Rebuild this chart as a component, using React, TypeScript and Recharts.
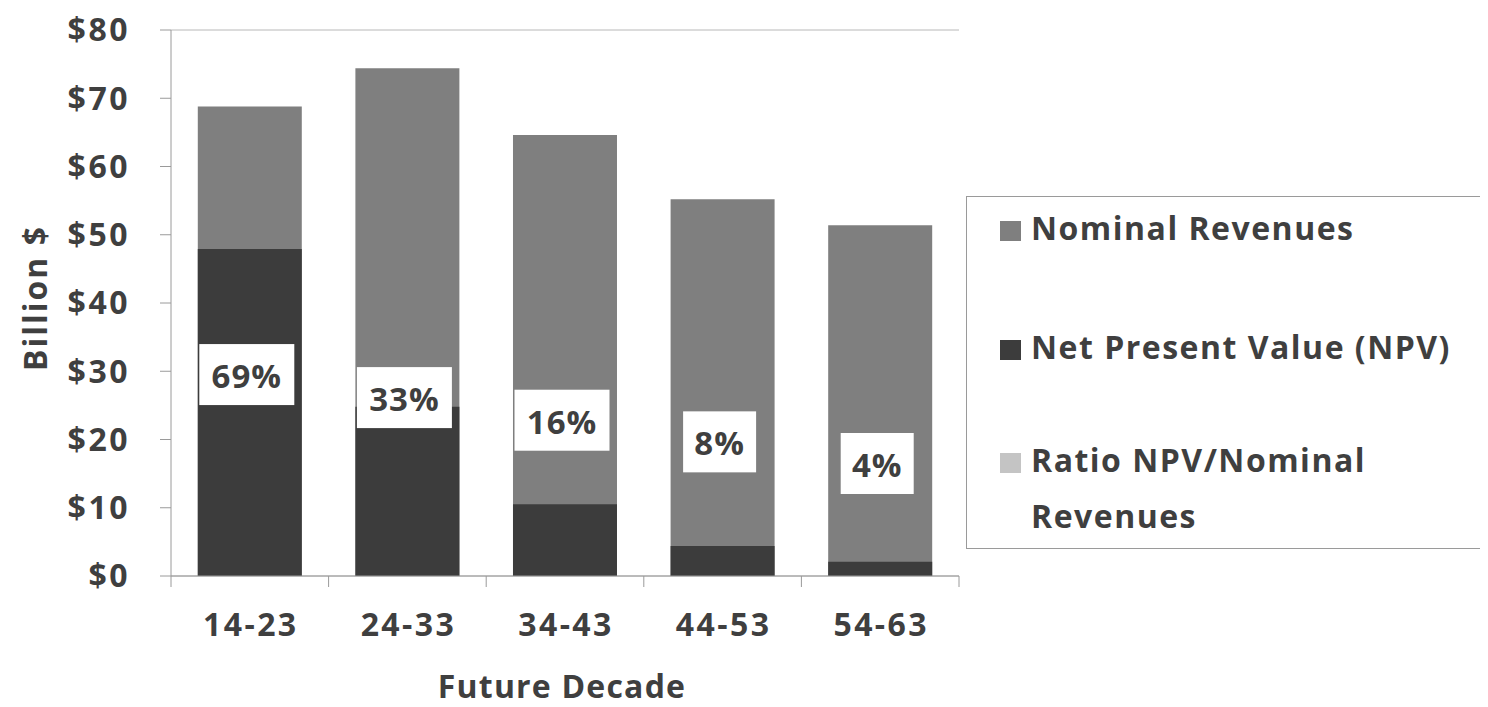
import {
  Bar,
  ComposedChart,
  CartesianGrid,
  Legend,
  Line,
  XAxis,
  YAxis,
} from 'recharts';

const decades = ['14-23', '24-33', '34-43', '44-53', '54-63'];
const nominalRevenues = [68.8, 74.4, 64.6, 55.2, 51.4];
const netPresentValue = [47.9, 24.8, 10.5, 4.4, 2.1];
const npvRatio = [0.69, 0.33, 0.16, 0.08, 0.04];
const yTicks = [0, 10, 20, 30, 40, 50, 60, 70, 80];

const FONT = '"Open Sans", "DejaVu Sans", sans-serif';
const TEXT = '#3f3f3f';
const AXIS = '#9a9a9a';
const NOMINAL = '#7f7f7f';
const NPV = '#3c3c3c';
const RATIO = '#c4c4c4';

const legendItems = [
  { label: 'Nominal Revenues', color: NOMINAL },
  { label: 'Net Present Value (NPV)', color: NPV },
  { label: 'Ratio NPV/Nominal Revenues', color: RATIO },
];
const legendRowTops = [3, 122, 235];

const data = decades.map((decade, i) => ({
  decade,
  nominal: nominalRevenues[i],
  npv: netPresentValue[i],
  ratio: npvRatio[i],
}));

function RatioLabel(props: any) {
  const { x, y, value } = props;
  if (x == null || y == null) return null;
  const text = `${Math.round(value * 100)}%`;
  const w = text.length > 2 ? 95 : 73;
  const h = 61;
  const cx = x - 3;
  return (
    <g>
      <rect x={cx - w / 2} y={y - h / 2} width={w} height={h} fill="#ffffff" />
      <text
        x={cx}
        y={y + 1}
        textAnchor="middle"
        dominantBaseline="central"
        fill={TEXT}
        fontFamily={FONT}
        fontWeight={700}
        fontSize={33}
        letterSpacing={1}
      >
        {text}
      </text>
    </g>
  );
}

function DecadeTick(props: any) {
  const { x, y, payload, width, index } = props;
  const half = width / decades.length / 2;
  return (
    <g>
      {index === 0 ? (
        <line x1={x - half} x2={x - half} y1={y} y2={y + 11} stroke={AXIS} />
      ) : null}
      <line x1={x + half} x2={x + half} y1={y} y2={y + 11} stroke={AXIS} />
      <text
        x={x + 1}
        y={y + 47}
        textAnchor="middle"
        dominantBaseline="central"
        fill={TEXT}
        fontFamily={FONT}
        fontWeight={700}
        fontSize={32}
        letterSpacing={2.4}
      >
        {payload.value}
      </text>
    </g>
  );
}

function LegendBox() {
  return (
    <div
      style={{
        border: `1px solid ${AXIS}`,
        width: 519,
        height: 353,
        boxSizing: 'border-box',
        background: '#fff',
        fontFamily: FONT,
        fontWeight: 700,
        fontSize: 32,
        letterSpacing: 1.5,
        color: TEXT,
        position: 'relative',
      }}
    >
      {legendItems.map((item, i) => (
        <div
          key={item.label}
          style={{
            position: 'absolute',
            left: 33,
            top: legendRowTops[i],
            display: 'flex',
            alignItems: 'flex-start',
            lineHeight: '56px',
          }}
        >
          <span
            style={{
              display: 'inline-block',
              width: 21,
              height: 20,
              background: item.color,
              marginTop: 21,
              marginRight: 10,
              flex: 'none',
            }}
          />
          <span style={{ maxWidth: 420, whiteSpace: i === 2 ? 'normal' : 'nowrap' }}>
            {item.label}
          </span>
        </div>
      ))}
    </div>
  );
}

export default function App() {
  return (
    <div style={{ width: 1480, height: 699, background: '#fff' }}>
      <ComposedChart
        width={1480}
        height={699}
        data={data}
        margin={{ top: 22, right: 529, bottom: 0, left: 0 }}
        barCategoryGap="17%"
      >
        <CartesianGrid vertical={false} stroke="#b8b8b8" />
        <XAxis
          xAxisId="main"
          dataKey="decade"
          height={131}
          tickLine={false}
          tickSize={0}
          tickMargin={0}
          axisLine={{ stroke: AXIS }}
          tick={<DecadeTick />}
          interval={0}
          label={({ viewBox }: any) => (
            <text
              x={viewBox.x + viewBox.width / 2 - 3}
              y={viewBox.y + 109}
              textAnchor="middle"
              dominantBaseline="central"
              fill={TEXT}
              fontFamily={FONT}
              fontWeight={700}
              fontSize={32}
              letterSpacing={1.2}
            >
              Future Decade
            </text>
          )}
        />
        <XAxis xAxisId="back" dataKey="decade" orientation="top" height={0} hide />
        <YAxis
          yAxisId="money"
          width={163}
          domain={[0, 80]}
          ticks={yTicks}
          interval={0}
          tickFormatter={(v: number) => `$${v}`}
          tickSize={11}
          tickMargin={30}
          tickLine={{ stroke: AXIS }}
          axisLine={{ stroke: AXIS }}
          tick={{
            fill: TEXT,
            fontFamily: FONT,
            fontWeight: 700,
            fontSize: 32,
            letterSpacing: 2.5,
          }}
          label={({ viewBox }: any) => {
            const cx = viewBox.x + 26;
            const cy = viewBox.y + 268;
            return (
              <text
                x={cx}
                y={cy}
                transform={`rotate(-90 ${cx} ${cy})`}
                textAnchor="middle"
                dominantBaseline="central"
                fill={TEXT}
                fontFamily={FONT}
                fontWeight={700}
                fontSize={32}
                letterSpacing={2}
              >
                Billion $
              </text>
            );
          }}
        />
        <YAxis
          yAxisId="ratio"
          orientation="right"
          scale="log"
          domain={[0.00109, 42760]}
          allowDataOverflow
          hide
        />
        <Bar
          xAxisId="main"
          yAxisId="money"
          dataKey="nominal"
          name="Nominal Revenues"
          fill={NOMINAL}
          isAnimationActive={false}
        />
        <Bar
          xAxisId="back"
          yAxisId="money"
          dataKey="npv"
          name="Net Present Value (NPV)"
          fill={NPV}
          isAnimationActive={false}
        />
        <Line
          xAxisId="main"
          yAxisId="ratio"
          dataKey="ratio"
          name="Ratio NPV/Nominal Revenues"
          stroke="none"
          dot={false}
          activeDot={false}
          label={<RatioLabel />}
          isAnimationActive={false}
        />
        <Legend
          layout="vertical"
          align="center"
          verticalAlign="middle"
          content={() => <LegendBox />}
          wrapperStyle={{ left: 958, top: 188, width: 519 }}
        />
      </ComposedChart>
    </div>
  );
}
